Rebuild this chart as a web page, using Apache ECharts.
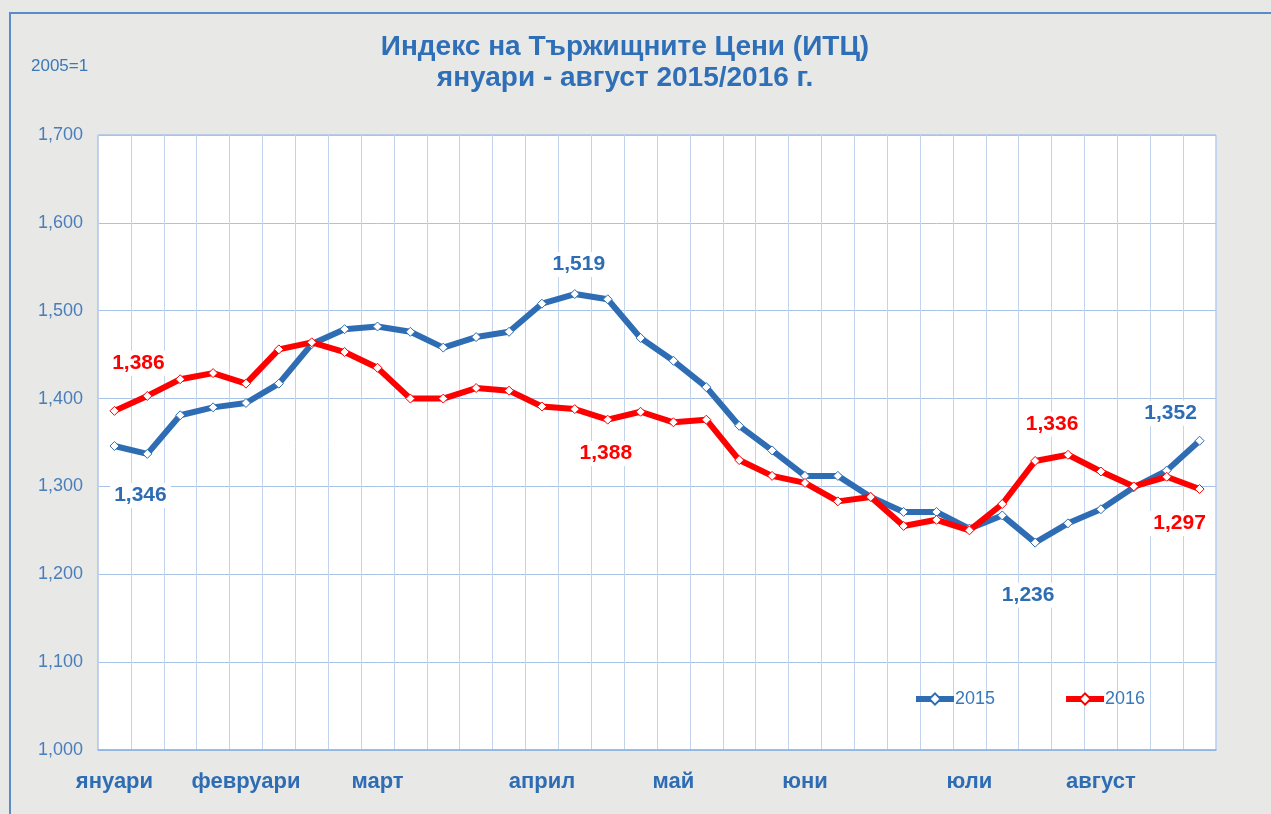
<!DOCTYPE html>
<html>
<head>
<meta charset="utf-8">
<title>Индекс на Тържищните Цени</title>
<script src="https://cdn.jsdelivr.net/npm/echarts@6/dist/echarts.min.js"></script>
<style>
  html, body { margin: 0; padding: 0; background: #e8e8e6; }
  #frame {
    position: absolute; left: 9px; top: 12px; right: 0; bottom: 0;
    border-left: 2px solid #5b8cc8; border-top: 2px solid #5b8cc8;
  }
  #chart { position: absolute; left: 0; top: 0; width: 1271px; height: 814px; }
</style>
</head>
<body>
<div id="frame"></div>
<div id="chart"></div>
<script>
// 34 weekly readings, January - August
const weeks = Array.from({ length: 34 }, (_, i) => 'W' + (i + 1));
// month names shown under the week where each month starts
const monthLabels = { 0: 'януари', 4: 'февруари', 8: 'март', 13: 'април', 17: 'май', 21: 'юни', 26: 'юли', 30: 'август' };

const values2015 = [
  1.346, 1.337, 1.381, 1.390, 1.395, 1.417, 1.462, 1.479, 1.482, 1.476,
  1.458, 1.470, 1.476, 1.508, 1.519, 1.513, 1.469, 1.443, 1.413, 1.369,
  1.341, 1.312, 1.312, 1.288, 1.271, 1.271, 1.252, 1.267, 1.236, 1.258,
  1.274, 1.299, 1.318, 1.352
];
const values2016 = [
  1.386, 1.403, 1.422, 1.429, 1.417, 1.456, 1.464, 1.453, 1.435, 1.400,
  1.400, 1.412, 1.409, 1.391, 1.388, 1.376, 1.385, 1.373, 1.376, 1.330,
  1.312, 1.304, 1.283, 1.288, 1.255, 1.262, 1.250, 1.280, 1.329, 1.336,
  1.317, 1.300, 1.311, 1.297
];

const BLUE = '#2e6db4';
const RED = '#ff0000';
const FONT = 'Liberation Sans, Arial, sans-serif';
const fmt = v => v.toFixed(3).replace('.', ',');

// which points carry a value label, and where it sits
const callouts2015 = { 0: ['bottom', [26, 27]], 14: ['top', [4, -7]], 28: ['bottom', [-7, 30]], 33: ['top', [-29, -5]] };
const callouts2016 = { 0: ['top', [24, -25]], 14: ['bottom', [31, 22]], 29: ['top', [-16, -8]], 33: ['bottom', [-20, 12]] };

function buildData(values, callouts, color) {
  return values.map((v, i) => {
    const c = callouts[i];
    if (!c) return v;
    return {
      value: v,
      label: {
        show: true, position: c[0], offset: c[1],
        formatter: p => fmt(p.value),
        color: color, fontSize: 21, fontWeight: 'bold', fontFamily: FONT,
        backgroundColor: '#fff', padding: [2, 4]
      }
    };
  });
}

function lineSeries(name, values, callouts, color) {
  return {
    name: name,
    type: 'line',
    data: buildData(values, callouts, color),
    symbol: 'diamond',
    symbolSize: 9,
    showAllSymbol: true,
    lineStyle: { color: color, width: 6 },
    itemStyle: { color: '#fff', borderColor: color, borderWidth: 1 },
    emphasis: { disabled: true },
    z: name === '2016' ? 3 : 2
  };
}

const chart = echarts.init(document.getElementById('chart'), null, { renderer: 'canvas' });

chart.setOption({
  backgroundColor: 'transparent',
  animation: false,
  textStyle: { fontFamily: FONT },
  title: [
    {
      text: 'Индекс на Тържищните Цени (ИТЦ)\nянуари - август 2015/2016 г.',
      left: 620, top: 27, textAlign: 'center',
      textStyle: { color: '#2e6fb7', fontSize: 28, fontWeight: 'bold', lineHeight: 31, fontFamily: FONT }
    },
    {
      text: '2005=1', left: 26, top: 53,
      textStyle: { color: '#3b78b8', fontSize: 17, fontWeight: 'normal', fontFamily: FONT }
    }
  ],
  legend: {
    left: 908, top: 685,
    itemWidth: 38, itemHeight: 14, itemGap: 68,
    lineStyle: { width: 6 },
    textStyle: { color: '#3b78b8', fontSize: 18, padding: [0, 0, 0, -4] },
    data: ['2015', '2016']
  },
  grid: {
    left: 98, right: 55, top: 135, bottom: 64,
    show: true, backgroundColor: '#ffffff', borderColor: '#8db3e2', borderWidth: 1,
    containLabel: false
  },
  xAxis: {
    type: 'category',
    data: weeks,
    boundaryGap: true,
    axisLine: { lineStyle: { color: '#8db3e2', width: 1.5 } },
    axisTick: { show: false },
    axisLabel: {
      interval: 0, margin: 21,
      formatter: (v, i) => monthLabels[i] || '',
      color: BLUE, fontSize: 22, fontWeight: 'bold'
    },
    splitLine: { show: true, interval: 0, lineStyle: { color: '#c3d5ee', width: 1 } }
  },
  yAxis: {
    type: 'value',
    min: 1.0, max: 1.7, interval: 0.1,
    axisLine: { show: false },
    axisTick: { show: false },
    axisLabel: { formatter: v => fmt(v), color: '#4a7ebb', fontSize: 18, margin: 15 },
    splitLine: { lineStyle: { color: '#a9c3e6', width: 1 } }
  },
  series: [
    lineSeries('2015', values2015, callouts2015, BLUE),
    lineSeries('2016', values2016, callouts2016, RED)
  ]
});
</script>
</body>
</html>
